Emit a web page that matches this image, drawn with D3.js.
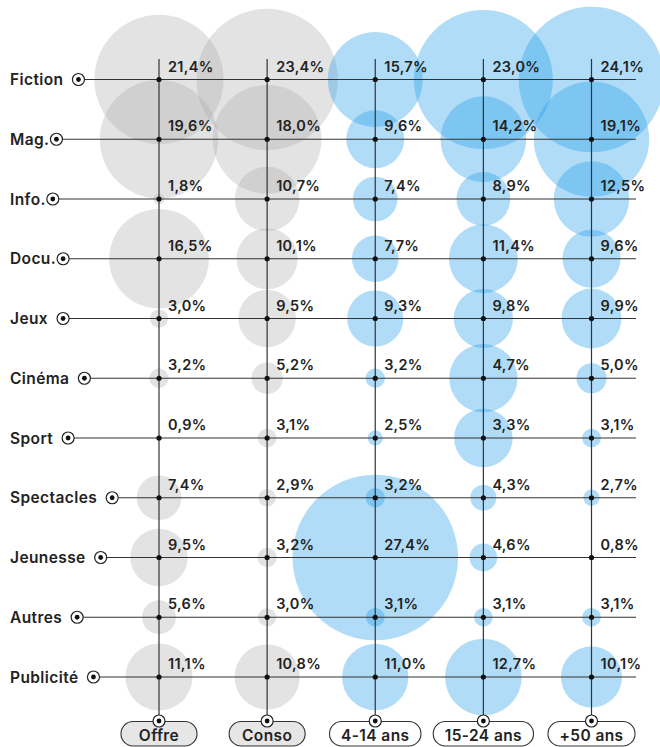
<!DOCTYPE html>
<html>
<head>
<meta charset="utf-8">
<script src="https://cdn.jsdelivr.net/npm/d3@7"></script>
<style>
  html, body { margin: 0; padding: 0; background: #fff; }
  svg text { font-family: Inter, "Noto Sans", sans-serif; font-weight: 600; fill: #222; }
</style>
</head>
<body>
<svg id="chart" width="660" height="747"></svg>
<script>
// genres (rows) and audiences (columns)
var categories = ["Fiction", "Mag.", "Info.", "Docu.", "Jeux", "Cinéma", "Sport", "Spectacles", "Jeunesse", "Autres", "Publicité"];
var groups = ["Offre", "Conso", "4-14 ans", "15-24 ans", "+50 ans"];

// shares in %, one array per column, same order as categories
var offre    = [21.4, 19.6, 1.8, 16.5, 3.0, 3.2, 0.9, 7.4, 9.5, 5.6, 11.1];
var conso    = [23.4, 18.0, 10.7, 10.1, 9.5, 5.2, 3.1, 2.9, 3.2, 3.0, 10.8];
var ans4_14  = [15.7, 9.6, 7.4, 7.7, 9.3, 3.2, 2.5, 3.2, 27.4, 3.1, 11.0];
var ans15_24 = [23.0, 14.2, 8.9, 11.4, 9.8, 4.7, 3.3, 4.3, 4.6, 3.1, 12.7];
var ans50    = [24.1, 19.1, 12.5, 9.6, 9.9, 5.0, 3.1, 2.7, 0.8, 3.1, 10.1];

// the 15-24 bubbles for Cinéma and Sport are drawn bigger than their labels say
// (looks like they reuse the row above), so the bubble sizes are read separately
var size15_24 = [23.0, 14.2, 8.9, 11.4, 9.8, 11.3, 9.7, 4.3, 4.6, 3.1, 12.7];

var series = [offre, conso, ans4_14, ans15_24, ans50];
var sizes  = [offre, conso, ans4_14, size15_24, ans50];

var svg = d3.select("#chart");
var x = d3.scalePoint().domain(groups).range([159, 591.5]);
var y = d3.scalePoint().domain(categories).range([79.5, 677]);
var r = d3.scaleLinear().domain([0, 10]).range([0, 30.2]);

var fmt = d3.format(".1f");
function pct(v) { return fmt(v).replace(".", ",") + "%"; }

// flatten into cells
var cells = [];
series.forEach(function (vals, gi) {
    vals.forEach(function (v, ci) {
        cells.push({ g: groups[gi], gi: gi, c: categories[ci], v: v, s: sizes[gi][ci] });
    });
});

// bubbles first, under everything
svg.append("g").selectAll("circle")
    .data(cells)
    .join("circle")
    .attr("cx", d => x(d.g))
    .attr("cy", d => y(d.c))
    .attr("r", d => r(d.s))
    .attr("fill", d => d.gi < 2 ? "rgb(170,170,170)" : "rgb(40,160,232)")
    .attr("fill-opacity", d => d.gi < 2 ? 0.33 : 0.37);

var rightEnd = 636;
var lineTop = 59;
var lineBottom = 721;

// row labels + markers
var rows = svg.append("g");
categories.forEach(function (c) {
    var t = rows.append("text")
        .attr("x", 10)
        .attr("y", y(c) + 5.5)
        .attr("font-size", 15.5)
        .style("letter-spacing", "0.4px")
        .text(c);
    // labels ending with a dot sit tighter to their marker
    var gap = c.slice(-1) == "." ? 7 : 15;
    var mx = 10 + t.node().getComputedTextLength() + gap;
    rows.append("line")
        .attr("x1", mx + 6).attr("x2", rightEnd)
        .attr("y1", y(c)).attr("y2", y(c))
        .attr("stroke", "#333").attr("stroke-width", 1.2);
    rows.append("circle")
        .attr("cx", mx).attr("cy", y(c)).attr("r", 6)
        .attr("fill", "#fff").attr("stroke", "#222").attr("stroke-width", 1.2);
    rows.append("circle")
        .attr("cx", mx).attr("cy", y(c)).attr("r", 2.4)
        .attr("fill", "#111");
});

// column lines + pills
var cols = svg.append("g");
groups.forEach(function (g, gi) {
    cols.append("line")
        .attr("x1", x(g)).attr("x2", x(g))
        .attr("y1", lineTop).attr("y2", lineBottom - 6)
        .attr("stroke", "#333").attr("stroke-width", 1.2);
    var t = cols.append("text")
        .attr("x", x(g))
        .attr("y", 741)
        .attr("text-anchor", "middle")
        .attr("font-size", 15.5)
        .style("letter-spacing", "0.4px")
        .text(g);
    var w = Math.max(76, t.node().getComputedTextLength() + 23);
    cols.insert("rect", "text")
        .attr("x", x(g) - w / 2).attr("y", 721.5)
        .attr("width", w).attr("height", 24.5)
        .attr("rx", 12).attr("ry", 12)
        .attr("fill", gi < 2 ? "#e6e6e6" : "#fff")
        .attr("stroke", "#333").attr("stroke-width", 1.1);
    cols.append("circle")
        .attr("cx", x(g)).attr("cy", lineBottom).attr("r", 6)
        .attr("fill", "#fff").attr("stroke", "#222").attr("stroke-width", 1.2);
    cols.append("circle")
        .attr("cx", x(g)).attr("cy", lineBottom).attr("r", 2.4)
        .attr("fill", "#111");
});

// intersection dots and values
var marks = svg.append("g");
marks.selectAll("circle")
    .data(cells)
    .join("circle")
    .attr("cx", d => x(d.g))
    .attr("cy", d => y(d.c))
    .attr("r", 2.6)
    .attr("fill", "#111");

marks.selectAll("text")
    .data(cells)
    .join("text")
    .attr("x", d => x(d.g) + 9)
    .attr("y", d => y(d.c) - 8)
    .attr("font-size", 14.5)
    .style("letter-spacing", "0.3px")
    .text(d => pct(d.v));
</script>
</body>
</html>
